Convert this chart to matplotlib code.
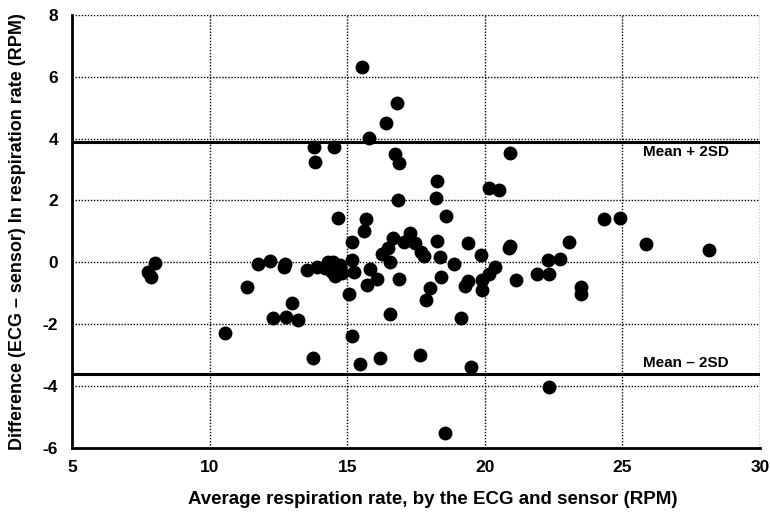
import matplotlib
matplotlib.use("Agg")
import matplotlib.pyplot as plt

avg_rate = [7.75, 7.87, 8.0, 10.55, 11.35, 11.75, 12.2, 12.3, 12.75, 12.7, 12.76, 13.0, 13.2,
            13.53, 13.74, 13.81, 13.84, 13.9, 14.2, 14.3, 14.4, 14.45, 14.5, 14.55, 14.53, 14.65,
            14.68, 14.75, 14.8, 15.08, 15.16, 15.18, 15.18, 15.25, 15.45, 15.55, 15.61, 15.69,
            15.72, 15.78, 15.84, 16.08, 16.2, 16.26, 16.41, 16.5, 16.55, 16.56, 16.68, 16.75,
            16.82, 16.83, 16.87, 16.89, 17.07, 17.29, 17.45, 17.63, 17.68, 17.79, 17.86, 18.0,
            18.24, 18.26, 18.26, 18.38, 18.41, 18.55, 18.60, 18.87, 19.13, 19.29, 19.38, 19.39,
            19.51, 19.87, 19.90, 19.90, 20.14, 20.17, 20.36, 20.50, 20.87, 20.93, 20.93, 21.13,
            21.89, 22.28, 22.32, 22.32, 22.72, 23.07, 23.51, 23.51, 24.32, 24.93, 25.84, 28.16]
diff_rate = [-0.31, -0.47, -0.03, -2.30, -0.81, -0.04, 0.04, -1.80, -0.04, -0.15, -1.76, -1.31, -1.85,
             -0.25, -3.08, 3.74, 3.23, -0.15, -0.2, 0.0, -0.1, -0.3, 0.0, -0.45, 3.72, -0.2,
             1.42, -0.1, -0.35, -1.03, 0.09, 0.64, -2.38, -0.33, -3.30, 6.33, 1.01, 1.39,
             -0.75, 4.03, -0.23, -0.55, -3.11, 0.27, 4.49, 0.45, -1.66, 0.02, 0.77, 3.50,
             5.14, 2.01, -0.55, 3.20, 0.66, 0.96, 0.61, -3.00, 0.34, 0.21, -1.22, -0.83,
             2.07, 2.63, 0.70, 0.18, -0.47, -5.52, 1.50, -0.07, -1.80, -0.77, -0.60, 0.63,
             -3.38, 0.23, -0.58, -0.88, -0.38, 2.39, -0.15, 2.34, 0.45, 0.53, 3.52, -0.58,
             -0.38, 0.07, -0.38, -4.03, 0.10, 0.64, -0.79, -1.01, 1.40, 1.42, 0.59, 0.39]
upper_limit = 3.9
lower_limit = -3.6
limit_labels = ["Mean + 2SD", "Mean \u2013 2SD"]
x_ticks = [5, 10, 15, 20, 25, 30]
y_ticks = [-6, -4, -2, 0, 2, 4, 6, 8]

plt.rcParams['font.family'] = ['Liberation Sans', 'DejaVu Sans']
plt.rcParams['font.weight'] = 'bold'
plt.rcParams['axes.unicode_minus'] = False

fig = plt.figure(figsize=(7.7, 5.13), dpi=100)
ax = fig.add_axes([0.0935, 0.127, 0.8935, 0.844])

ax.scatter(avg_rate, diff_rate, s=100, c='black', zorder=3, linewidths=0)
ax.axhline(upper_limit, color='black', lw=2.2, zorder=2)
ax.axhline(lower_limit, color='black', lw=2.2, zorder=2)
ax.text(27.3, upper_limit - 0.12, limit_labels[0], ha='center', va='top', fontsize=11, fontweight='bold')
ax.text(27.3, lower_limit + 0.12, limit_labels[1], ha='center', va='bottom', fontsize=11, fontweight='bold')

ax.set_xlim(5, 30)
ax.set_ylim(-6, 8)
ax.set_xticks(x_ticks)
ax.set_yticks(y_ticks)
ax.tick_params(length=0, labelsize=12.5, pad=10)
ax.tick_params(axis='x', pad=9)
for lab in ax.get_xticklabels() + ax.get_yticklabels():
    lab.set_fontweight('bold')
ax.grid(True, color='black', linestyle=(0, (1, 1.2)), linewidth=1)
ax.set_axisbelow(True)
for s in ['top', 'right']:
    ax.spines[s].set_visible(False)
for s in ['left', 'bottom']:
    ax.spines[s].set_linewidth(2)
ax.set_xlabel("Average respiration rate, by the ECG and sensor (RPM)", fontsize=13.5, fontweight='bold', labelpad=13)
ax.xaxis.set_label_coords(0.525, -0.1)
ax.set_ylabel("Difference (ECG \u2013 sensor) In respiration rate (RPM)", fontsize=13, fontweight='bold', labelpad=12)

fig.savefig("out.png", dpi=100)
